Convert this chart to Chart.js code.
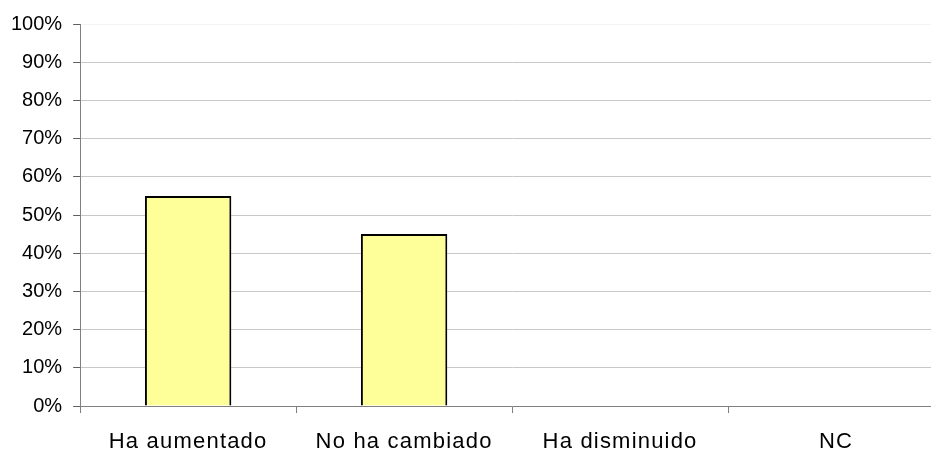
<!DOCTYPE html>
<html>
<head>
<meta charset="utf-8">
<script src="https://cdn.jsdelivr.net/npm/chart.js@4"></script>
<style>
html,body{margin:0;padding:0;background:#fff;overflow:hidden;width:931px;height:452px;}
#wrap{position:relative;width:944px;height:471px;}
</style>
</head>
<body>
<div id="wrap"><canvas id="c"></canvas></div>
<script>
const categories = ["Ha aumentado", "No ha cambiado", "Ha disminuido", "NC"];
const values = [55, 45, 0, 0];
const yTicks = [0, 10, 20, 30, 40, 50, 60, 70, 80, 90, 100];

const spacingPlugin = {
  id: 'xLetterSpacing',
  afterUpdate(chart) {
    const s = chart.scales.x;
    if (s && !s._spaced) {
      const orig = s.drawLabels.bind(s);
      s.drawLabels = function (area) {
        const ctx = this.ctx;
        ctx.save();
        ctx.letterSpacing = '1.2px';
        orig(area);
        ctx.restore();
      };
      s._spaced = true;
    }
  }
};

new Chart(document.getElementById('c'), {
  type: 'bar',
  data: {
    labels: categories,
    datasets: [{
      data: values,
      backgroundColor: '#FFFF99',
      borderColor: '#000000',
      borderWidth: 2,
      borderSkipped: 'bottom',
      barPercentage: 0.4,
      categoryPercentage: 1.0
    }]
  },
  plugins: [spacingPlugin],
  options: {
    responsive: true,
    maintainAspectRatio: false,
    animation: false,
    layout: { padding: { left: 0, right: 0, top: 24, bottom: 0 } },
    plugins: { legend: { display: false }, tooltip: { enabled: false } },
    scales: {
      x: {
        offset: true,
        grid: { offset: true, drawOnChartArea: false, drawTicks: true, tickLength: 7, color: '#808080', lineWidth: 1 },
        border: { color: '#808080', width: 1 },
        ticks: { color: '#000', font: { family: 'Liberation Sans', size: 22, lineHeight: 1.0 }, padding: 18, maxRotation: 0 }
      },
      y: {
        min: 0, max: 100,
        afterBuildTicks: (axis) => { axis.ticks = yTicks.map(v => ({ value: v })); },
        grid: {
          color: (ctx) => ctx.tick && ctx.tick.value === 100 ? '#f4f4f4' : '#c8c8c8',
          tickColor: '#606060',
          drawTicks: true, tickLength: 7, lineWidth: 1
        },
        border: { color: '#808080', width: 1 },
        ticks: { color: '#000', font: { family: 'Liberation Sans', size: 20 }, padding: 11,
          callback: (v) => v + '%' }
      }
    }
  }
});
</script>
</body>
</html>
